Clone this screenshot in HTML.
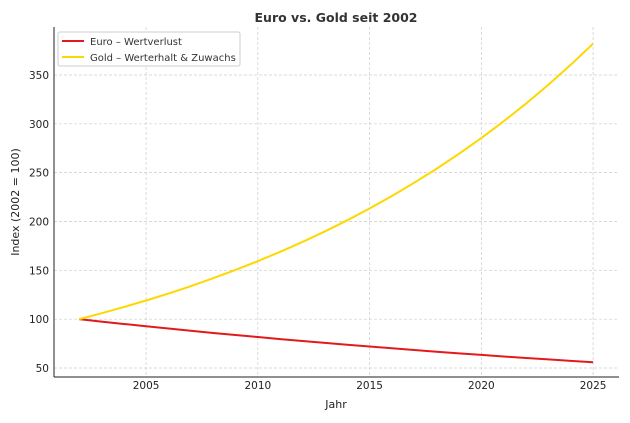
<!DOCTYPE html>
<html><head><meta charset="utf-8"><style>
body{margin:0;background:#fff;font-family:"DejaVu Sans","Liberation Sans",sans-serif}
</style></head><body>
<svg id="chart" width="630" height="419" xmlns="http://www.w3.org/2000/svg" font-family="DejaVu Sans, Liberation Sans, sans-serif">
<text x="336" y="22" text-anchor="middle" font-size="12.5" font-weight="bold" fill="#333">Euro vs. Gold seit 2002</text>
<g id="grid"></g>
<g id="axes"></g>
<g id="series"></g>
<text x="336" y="408" text-anchor="middle" font-size="11" fill="#222">Jahr</text>
<text transform="translate(19,202) rotate(-90)" text-anchor="middle" font-size="11" fill="#222">Index (2002 = 100)</text>
<g>
<rect x="58" y="32" width="182" height="34" fill="#fff" stroke="#ccc" rx="2"/>
<line x1="62" y1="41" x2="84" y2="41" stroke="#e31a1c" stroke-width="2"/>
<text x="90" y="44.8" font-size="10" fill="#333">Euro – Wertverlust</text>
<line x1="62" y1="57" x2="84" y2="57" stroke="#ffd700" stroke-width="2"/>
<text x="90" y="60.8" font-size="10" fill="#333">Gold – Werterhalt &amp; Zuwachs</text>
</g>
</svg>
<script>
const years=[2002,2003,2004,2005,2006,2007,2008,2009,2010,2011,2012,2013,2014,2015,2016,2017,2018,2019,2020,2021,2022,2023,2024,2025];
const euroValues=[100,97.5,95.1,92.7,90.4,88.1,85.9,83.8,81.7,79.6,77.6,75.7,73.8,72.0,70.2,68.4,66.7,65.0,63.4,61.8,60.3,58.8,57.3,55.9];
const goldValues=[100,106,112.4,119.1,126.2,133.8,141.9,150.4,159.4,169.0,179.1,189.8,201.2,213.3,226.1,239.7,254.0,269.3,285.4,302.6,320.7,340.0,360.4,382.0];
const xTicks=[2005,2010,2015,2020,2025];
const yTicks=[50,100,150,200,250,300,350];
const L=54,R=619,T=27,B=377,x0=2000.88,x1=2026.16,y0=40.8,y1=399.1;
const X=v=>L+(v-x0)/(x1-x0)*(R-L);
const Y=v=>B-(v-y0)/(y1-y0)*(B-T);
const NS="http://www.w3.org/2000/svg";
function mk(t,a,p){const e=document.createElementNS(NS,t);for(const k in a)e.setAttribute(k,a[k]);p.appendChild(e);return e;}
const grid=document.getElementById('grid'),axes=document.getElementById('axes'),series=document.getElementById('series');
xTicks.forEach(t=>{
 const g=mk('line',{x1:X(t),x2:X(t),y1:T,y2:B,stroke:'#ccc','stroke-dasharray':'3,2','stroke-width':0.7},grid);
 
 
 const tx=mk('text',{x:X(t),y:B+12,'text-anchor':'middle','font-size':10.5,fill:'#222'},axes);
 tx.textContent=t;
 
 
});
yTicks.forEach(t=>{
 const g=mk('line',{x1:L,x2:R,y1:Y(t),y2:Y(t),stroke:'#ccc','stroke-dasharray':'3,2','stroke-width':0.7},grid);
 
 
 const tx=mk('text',{x:L-5,y:Y(t)+4,'text-anchor':'end','font-size':10.5,fill:'#222'},axes);
 tx.textContent=t;
 
 
});
mk('line',{x1:L,x2:L,y1:T,y2:B,stroke:'#222'},axes);
mk('line',{x1:L,x2:R,y1:B,y2:B,stroke:'#222'},axes);
function line(vals,color,name){
 const p=mk('polyline',{points:vals.map((v,i)=>X(years[i])+','+Y(v)).join(' '),fill:'none',stroke:color,'stroke-width':2},series);
 
 
}
line(euroValues,'#e31a1c','euro-line');
line(goldValues,'#ffd700','gold-line');
</script>
</body></html>
